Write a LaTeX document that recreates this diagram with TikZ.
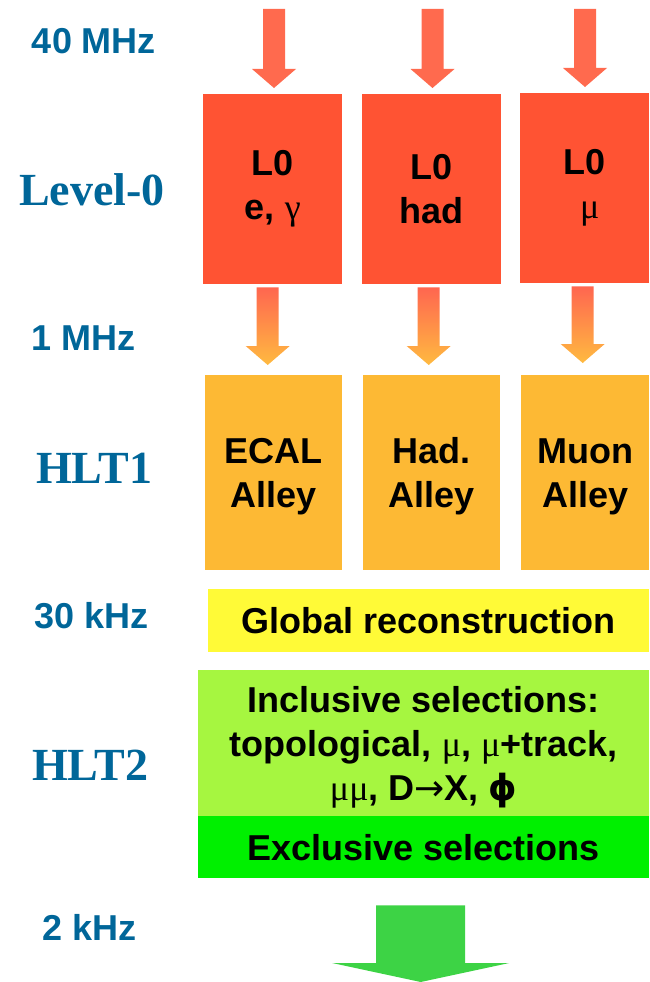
\documentclass[tikz,border=0pt]{standalone}
\usepackage{fontspec}
\setmainfont{Liberation Sans}
\newfontfamily\lvlfont{Liberation Serif}
\newfontfamily\grk{Liberation Serif}
\newfontfamily\symfont{DejaVu Sans}
\usetikzlibrary{calc}

\definecolor{rateblue}{RGB}{0,102,153}
\definecolor{l0red}{RGB}{255,83,51}
\definecolor{inred}{RGB}{255,106,78}
\definecolor{midtop}{RGB}{255,102,80}
\definecolor{midbot}{RGB}{255,186,64}
\definecolor{hltorange}{RGB}{253,185,52}
\definecolor{globyellow}{RGB}{255,250,55}
\definecolor{inclgreen}{RGB}{166,246,64}
\definecolor{exclgreen}{RGB}{0,240,0}
\definecolor{outgreen}{RGB}{61,211,69}

\tikzset{
  blockarrow/.style={to path={let \p1=(\tikztostart), \p2=(\tikztotarget) in
    (\x1-\shaftw,\y1) -- (\x1+\shaftw,\y1) -- (\x1+\shaftw,\y2+\headl) -- (\x1+\headw,\y2+\headl)
    -- (\x1,\y2) -- (\x1-\headw,\y2+\headl) -- (\x1-\shaftw,\y2+\headl) -- cycle}},
  small arrow/.style={blockarrow,/utils/exec={\def\shaftw{11pt}\def\headw{22pt}\def\headl{19pt}}},
  big arrow/.style={blockarrow,/utils/exec={\def\shaftw{44.5pt}\def\headw{88.5pt}\def\headl{19pt}}},
  box/.style={rectangle,anchor=north west,inner sep=0pt,align=center,font=\fontsize{36}{44}\selectfont\bfseries},
  rate/.style={anchor=base,text=rateblue,font=\fontsize{36}{43}\selectfont\bfseries},
  level/.style={anchor=base,text=rateblue,font=\lvlfont\fontsize{46}{50}\selectfont\bfseries}
}

\begin{document}
\begin{tikzpicture}[x=1pt,y=-1pt]
  \useasboundingbox (0,0) rectangle (649,982);

  % rates and levels
  \node[rate] (r40) at (94,53) {40 MHz};
  \node[level] (lv0) at (92,205) {Level-0};
  \node[rate] (r1) at (84,350) {1 MHz};
  \node[level] (lv1) at (94,483) {HLT1};
  \node[rate] (r30) at (92,628) {30 kHz};
  \node[level] (lv2) at (90,780) {HLT2};
  \node[rate] (r2) at (90,940) {2 kHz};

  % level-0
  \node[box,fill=l0red,minimum width=139pt,minimum height=190pt] (l0e) at (203,94) {L0\\e, {\grk\mdseries γ}};
  \node[box,fill=l0red,minimum width=139pt,minimum height=190pt] (l0h) at (362,94) {L0\\had};
  \node[box,fill=l0red,minimum width=129pt,minimum height=190pt] (l0m) at (520,93) {L0\\\ {\grk\mdseries μ}};

  % hlt1
  \node[box,fill=hltorange,minimum width=137pt,minimum height=195pt,text depth=0pt] (hlte) at (205,375) {ECAL\\Alley};
  \node[box,fill=hltorange,minimum width=137pt,minimum height=195pt,text depth=0pt] (hlth) at (363,375) {Had.\\Alley};
  \node[box,fill=hltorange,minimum width=128pt,minimum height=195pt,text depth=0pt] (hltm) at (521,375) {Muon\\Alley};

  % hlt2
  \node[box,fill=globyellow,minimum width=441pt,minimum height=63pt] (glob) at (208,589) {Global reconstruction};
  \node[box,fill=inclgreen,minimum width=451pt,minimum height=146pt,text depth=0pt] (incl) at (198,670)
    {Inclusive selections:\\topological, {\grk\mdseries μ}, {\grk\mdseries μ}+track,\\{\grk\mdseries μμ}, D{\symfont\mdseries →}X, {\symfont ϕ}};
  \node[box,fill=exclgreen,minimum width=451pt,minimum height=62pt] (excl) at (198,816) {Exclusive selections};

  \coordinate (in1) at (274,9);
  \coordinate (in2) at (432.5,9);
  \coordinate (in3) at (585,9);
  \coordinate (out) at (420.5,982);

  \path[fill=inred] (in1) to[small arrow] ([yshift=6pt]l0e.north);
  \path[fill=inred] (in2) to[small arrow] ([yshift=6pt]l0h.north);
  \path[fill=inred] (in3) to[small arrow] ([yshift=6pt]l0m.north);
  \path[top color=midtop,bottom color=midbot] ([xshift=-5pt,yshift=-3pt]l0e.south) to[small arrow] ([yshift=10pt]hlte.north);
  \path[top color=midtop,bottom color=midbot] ([xshift=-3pt,yshift=-3pt]l0h.south) to[small arrow] ([yshift=10pt]hlth.north);
  \path[top color=midtop,bottom color=midbot] ([xshift=-2pt,yshift=-3pt]l0m.south) to[small arrow] ([yshift=12pt]hltm.north);
  \path[fill=outgreen] ([xshift=-3pt,yshift=-27pt]excl.south) to[big arrow] (out);
\end{tikzpicture}
\end{document}
